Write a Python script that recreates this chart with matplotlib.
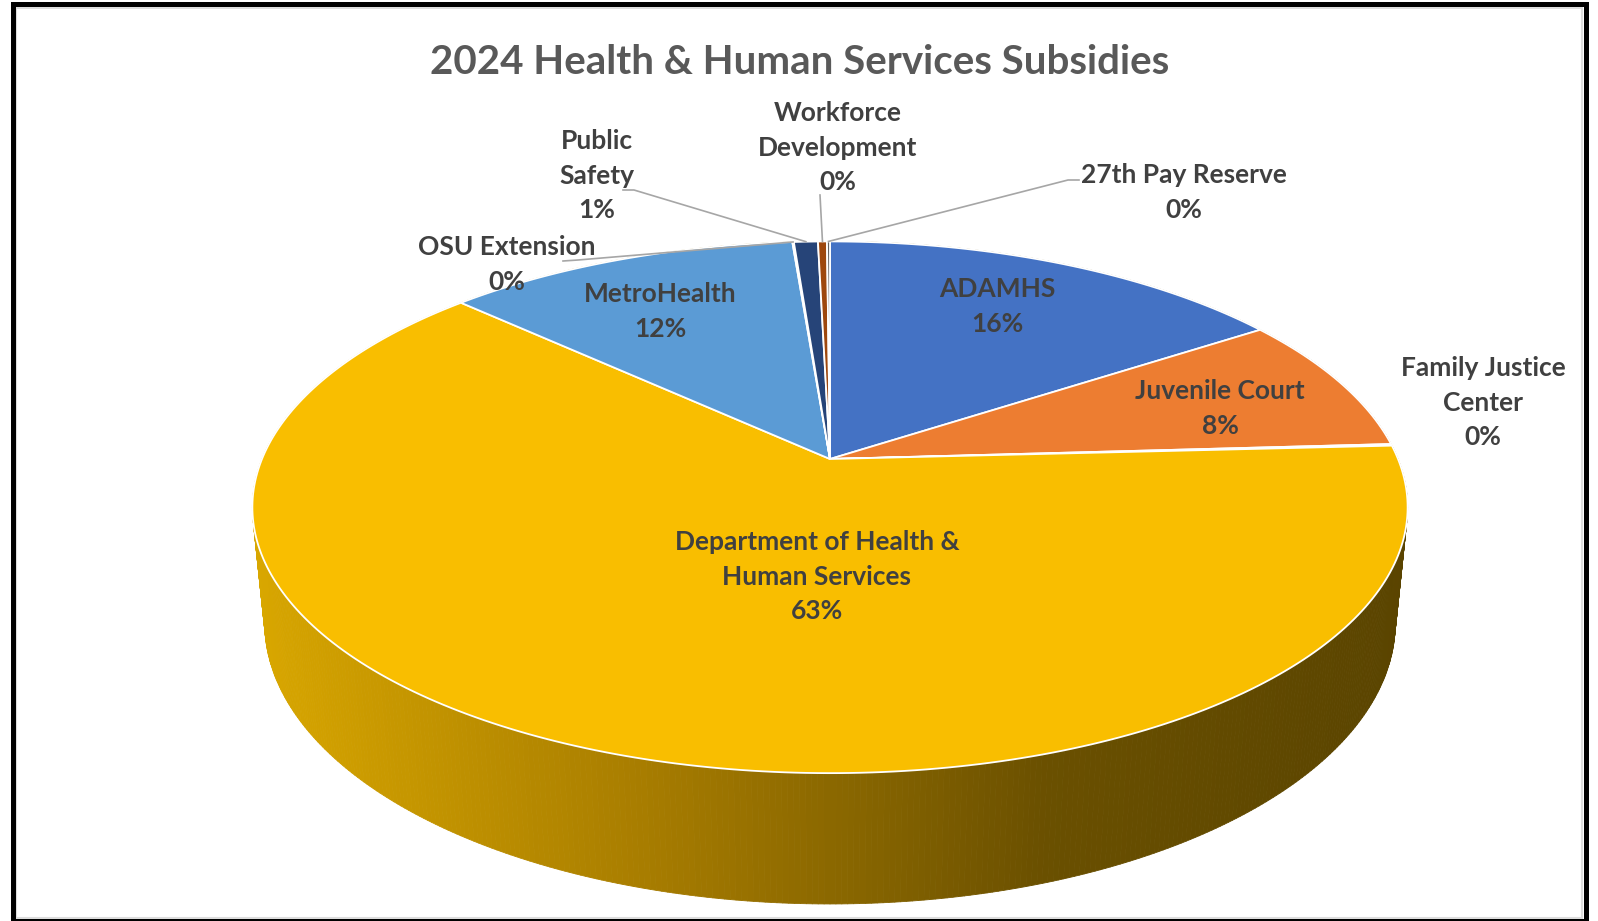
import numpy as np
import matplotlib.pyplot as plt
from matplotlib.collections import PolyCollection
from matplotlib.colors import LinearSegmentedColormap
from matplotlib.patches import Polygon, Rectangle

plt.rcParams['font.family'] = ['Lato', 'DejaVu Sans']

title = '2024 Health & Human Services Subsidies'
names = ['ADAMHS', 'Juvenile Court', 'Family Justice\nCenter',
         'Department of Health &\nHuman Services', 'MetroHealth', 'OSU Extension',
         'Public\nSafety', 'Workforce\nDevelopment', '27th Pay Reserve']
shares = [15.7, 8.4, 0.1, 62.9, 11.8, 0.05, 0.8, 0.3, 0.1]
colors = ['#4472C4', '#ED7D31', '#A5A5A5', '#F9BE00', '#5B9BD5',
          '#70AD47', '#264478', '#9E480E', '#636363']

# label placement in pixels (centre of first line), and leader line starts
label_pos = [(997, 289), (1220, 391), (1483, 368), (817, 542), (660, 294),
             (507, 247), (597, 141), (838, 113), (1184, 175)]
leaders = [None, None, None, None, None,
           [(563, 261), (578, 260)], [(623, 190), (634, 190)],
           [(820, 195)], [(1079, 180), (1068, 180)]]

W, H = 1598, 921
CX, CY = 830, 459          # screen position of pie centre
FOC, DIST = 2789, 4.91     # perspective camera
ELEV = np.arcsin(0.4526)
THICK = 0.23
LINE_H = 34.5


def project(theta, r=1.0, z=0.0):
    x = r * np.sin(theta)
    y = -r * np.cos(theta)
    depth = DIST - y * np.cos(ELEV) - z * np.sin(ELEV)
    sx = CX + FOC * x / depth
    sy = CY + FOC * (y * np.sin(ELEV) - z * np.cos(ELEV)) / depth
    return sx, sy


fig = plt.figure(figsize=(W / 100, H / 100), dpi=100)
ax = fig.add_axes([0, 0, 1, 1])
ax.set_xlim(0, W)
ax.set_ylim(H, 0)
ax.axis('off')

vals = np.array(shares, dtype=float)
frac = vals / vals.sum()
edges = np.concatenate([[0], np.cumsum(frac)]) * 2 * np.pi

# side wall with horizontal shading
side_cmap = LinearSegmentedColormap.from_list(
    'side', [(0, '#D9A700'), (0.34, '#A87D00'), (0.51, '#8A6700'),
             (0.69, '#6A5000'), (1, '#5A4400')])
th = np.linspace(0, 2 * np.pi, 721)
tx, ty = project(th)
bx, by = project(th, z=-THICK)
quads, qcol = [], []
for i in range(len(th) - 1):
    quads.append([(tx[i], ty[i]), (tx[i + 1], ty[i + 1]),
                  (bx[i + 1], by[i + 1]), (bx[i], by[i])])
    qcol.append(side_cmap(np.clip(((tx[i] + bx[i]) / 2 - 250) / 1160, 0, 1)))
ax.add_collection(PolyCollection(quads, facecolors=qcol, edgecolors=qcol,
                                 linewidths=0.6, zorder=1))

# top face slices
for i in range(len(vals)):
    t = np.linspace(edges[i], edges[i + 1], max(3, int(frac[i] * 400)))
    px, py = project(t)
    pts = [(CX, CY)] + list(zip(px, py))
    ax.add_patch(Polygon(pts, closed=True, facecolor=colors[i],
                         edgecolor='white', linewidth=1.3, zorder=2))

# labels
for i, name in enumerate(names):
    lines = name.split('\n') + [f'{frac[i] * 100:.0f}%']
    x0, y0 = label_pos[i]
    for k, s in enumerate(lines):
        ax.text(x0, y0 + k * LINE_H, s, ha='center', va='center',
                fontsize=19, fontweight='bold', color='#404040', zorder=4)
    if leaders[i] is not None:
        mx, my = project((edges[i] + edges[i + 1]) / 2)
        pts = leaders[i] + [(mx, my)]
        ax.plot([p[0] for p in pts], [p[1] for p in pts], color='#A6A6A6',
                lw=1.2, zorder=3)

ax.text(800, 63, title, ha='center', va='center', fontsize=29,
        fontweight='bold', color='#595959')

ax.add_patch(Rectangle((16, 8), 1566, 910, fill=False, edgecolor='#DDDDDD',
                       lw=1.5, zorder=5))
ax.add_patch(Rectangle((12.5, 4.5), 1573, 916, fill=False, edgecolor='black',
                       lw=3.6, zorder=6))

fig.savefig('out.png', dpi=100, facecolor='white')
